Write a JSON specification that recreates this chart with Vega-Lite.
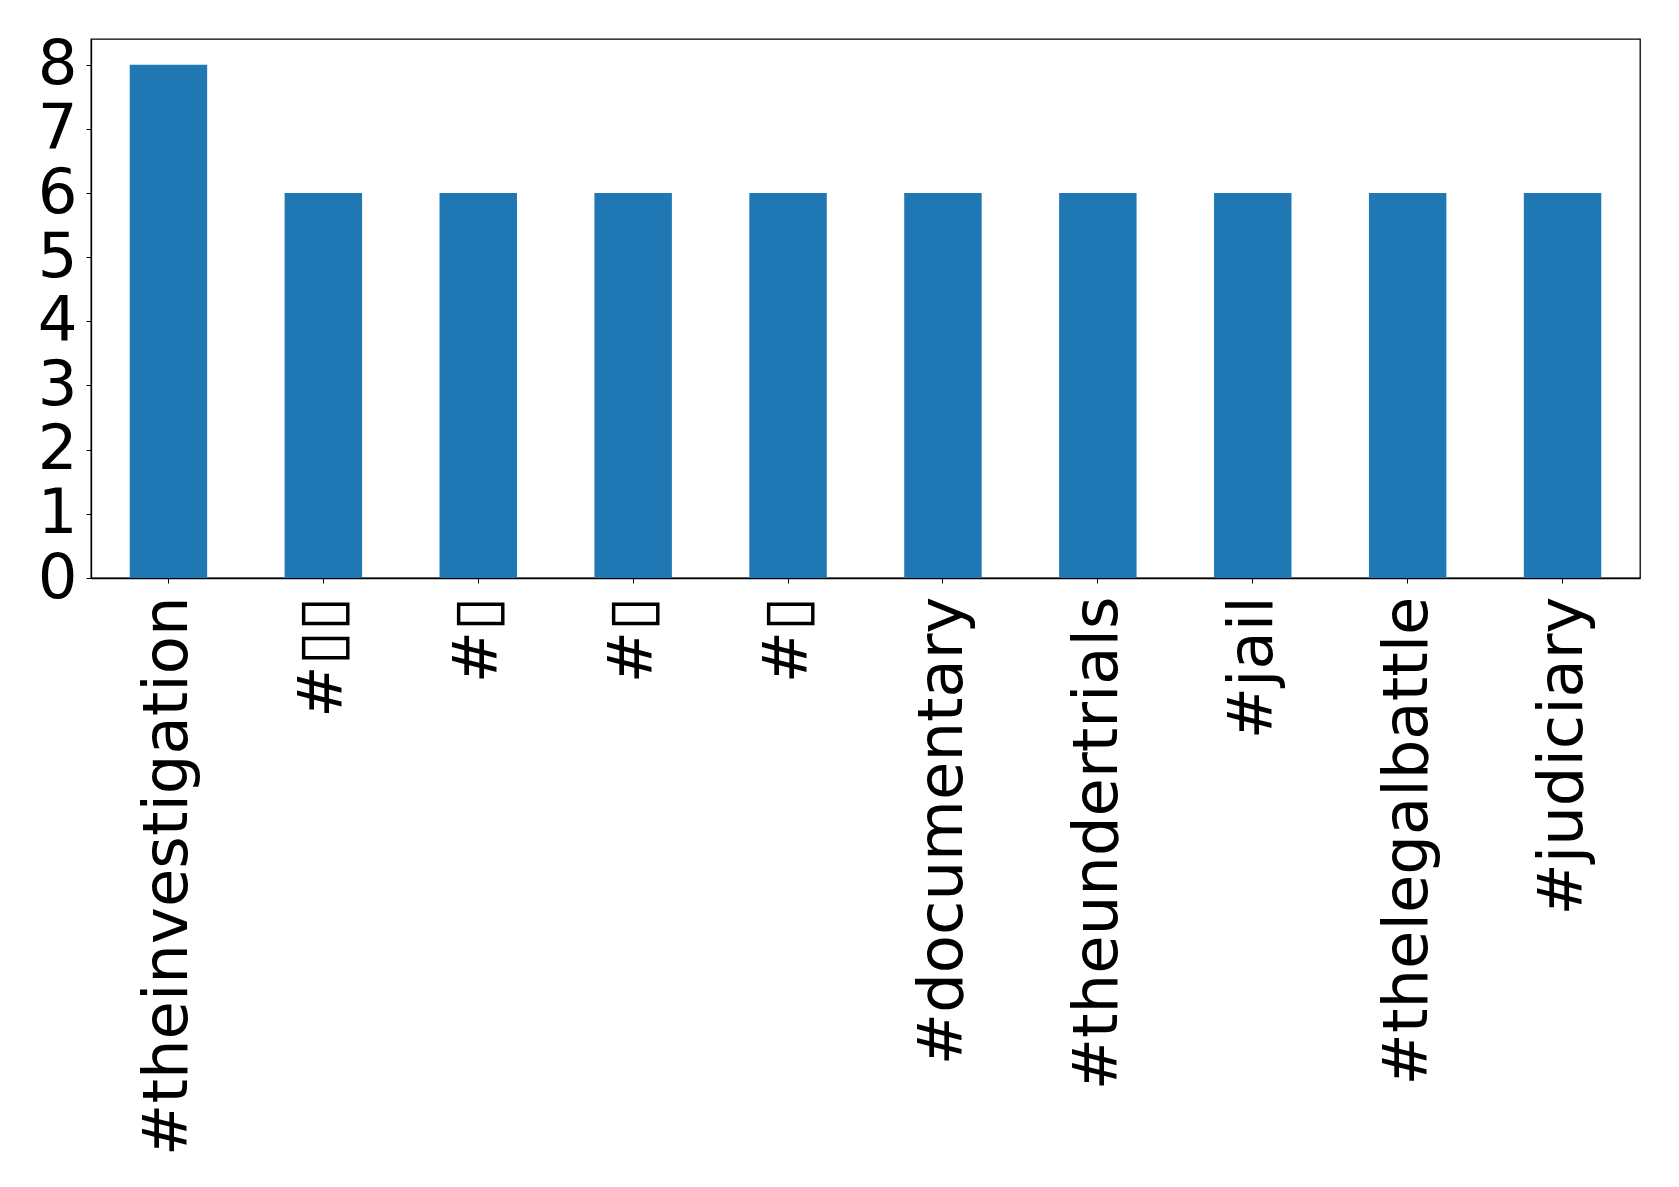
{
  "$schema": "https://vega.github.io/schema/vega-lite/v6.json",
  "width": 1549,
  "height": 539,
  "autosize": {"type": "none"},
  "padding": {"left": 91, "top": 39, "right": 39, "bottom": 609},
  "background": "white",
  "config": {
    "view": {"stroke": "black", "strokeWidth": 1.3},
    "font": "DejaVu Sans"
  },
  "data": {
    "values": [
      {"tag": "#theinvestigation", "count": 8},
      {"tag": "#▯▯", "count": 6},
      {"tag": "#▯", "count": 6},
      {"tag": "#▯ ", "count": 6},
      {"tag": "#▯  ", "count": 6},
      {"tag": "#documentary", "count": 6},
      {"tag": "#theundertrials", "count": 6},
      {"tag": "#jail", "count": 6},
      {"tag": "#thelegalbattle", "count": 6},
      {"tag": "#judiciary", "count": 6}
    ]
  },
  "mark": {"type": "bar", "color": "#1f77b4"},
  "encoding": {
    "x": {
      "field": "tag",
      "type": "nominal",
      "sort": null,
      "scale": {"paddingInner": 0.5, "paddingOuter": 0.25},
      "axis": {
        "title": null,
        "labelAngle": -90,
        "labelFont": "DejaVu Sans",
        "labelFontSize": 62.5,
        "labelLimit": 0,
        "labelOverlap": false,
        "labelColor": "black",
        "labelPadding": 13,
        "tickSize": 5,
        "tickColor": "black",
        "domainColor": "black",
        "domainWidth": 1.3,
        "labelExpr": "trim(datum.label)"
      }
    },
    "y": {
      "field": "count",
      "type": "quantitative",
      "scale": {"domain": [0, 8.4], "nice": false},
      "axis": {
        "title": null,
        "values": [0, 1, 2, 3, 4, 5, 6, 7, 8],
        "format": "d",
        "labelFont": "DejaVu Sans",
        "labelFontSize": 62.5,
        "labelColor": "black",
        "labelPadding": 9,
        "tickSize": 5,
        "tickColor": "black",
        "domainColor": "black",
        "domainWidth": 1.3,
        "grid": false
      }
    }
  }
}
